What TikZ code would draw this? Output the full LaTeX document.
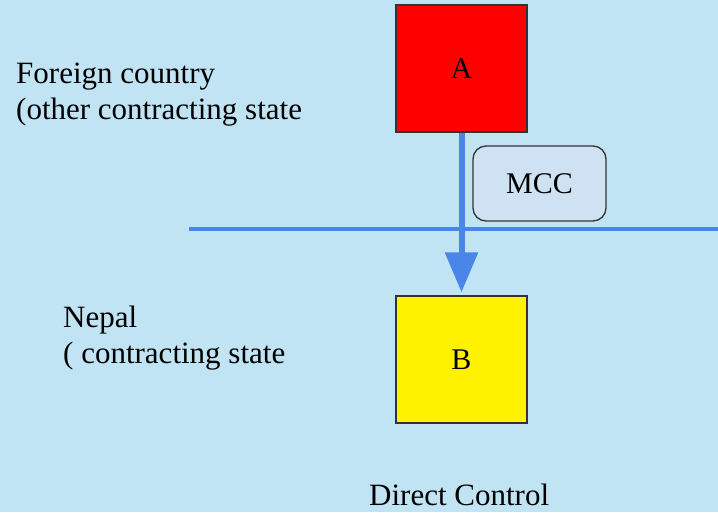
\documentclass[tikz,border=0pt]{standalone}
\usepackage{fontspec}
\setmainfont{Liberation Serif}
\usetikzlibrary{arrows.meta}
\definecolor{bgblue}{RGB}{192,228,244}
\definecolor{linkblue}{RGB}{74,134,232}
\definecolor{mccfill}{RGB}{207,226,243}
\definecolor{edgegray}{RGB}{51,51,51}
\tikzset{
  label text/.style={anchor=base west, inner sep=0pt, font=\fontsize{31}{37}\selectfont},
  entity/.style={draw=edgegray, line width=1.4pt, minimum width=131pt, minimum height=127pt,
    inner sep=0pt, font=\fontsize{30}{36}\selectfont},
  tag/.style={draw=edgegray, fill=mccfill, line width=1.3pt, rounded corners=13pt,
    minimum width=133pt, minimum height=75pt, inner sep=0pt, font=\fontsize{30}{36}\selectfont},
  border line/.style={draw=linkblue, line width=4.5pt},
  control/.style={draw=linkblue, line width=6pt,
    -{Triangle[length=40pt,width=32pt,fill=linkblue]}, shorten >=3pt}
}
\begin{document}
\begin{tikzpicture}[x=1pt,y=-1pt]
  % canvas
  \fill[bgblue] (0,0) rectangle (718,512);
  \useasboundingbox (0,0) rectangle (718,512);

  % the two companies
  \node[entity, fill=red] (A) at (461.5,68.5) {A};
  \node[entity, fill=yellow] (B) at (461.5,359.5) {B};

  % border between the two states
  \coordinate (borderL) at (189,229);
  \coordinate (borderR) at (718,229);
  \draw[border line] (borderL) -- (borderR);

  % control relation
  \draw[control] (A.south) -- (B.north);
  \node[tag] (mcc) at (539.5,183.5) {MCC};

  % state labels
  \node[label text] (fc1) at (16,83) {Foreign country};
  \node[label text] (fc2) at (16,119) {(other contracting state};
  \node[label text] (np1) at (63,327) {Nepal};
  \node[label text] (np2) at (63,363) {( contracting state};
  \node[label text] (dc) at (369,505) {Direct Control};
\end{tikzpicture}
\end{document}
